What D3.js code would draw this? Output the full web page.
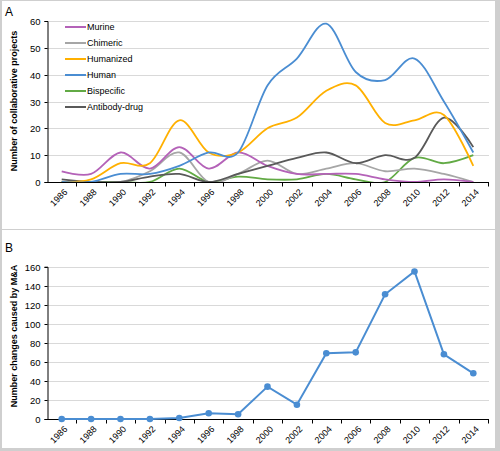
<!DOCTYPE html>
<html><head><meta charset="utf-8">
<script src="https://cdn.jsdelivr.net/npm/d3@7"></script>
<style>body{margin:0;background:#fff}svg{display:block;font-family:"Liberation Sans",Arial,sans-serif}</style>
</head><body>
<svg id="c" width="500" height="451"></svg>
<script>
const years = ["1986","1988","1990","1992","1994","1996","1998","2000","2002","2004","2006","2008","2010","2012","2014"];
const seriesNames = ["Murine","Chimeric","Humanized","Human","Bispecific","Antibody-drug"];
const murine      = [4,3,11,5,13,5,11,6,3,3,3,1,0,1,0];
const chimeric    = [0,0,0,4,11,0,3,8,3,5,7,4,5,3,0];
const humanized   = [0,1,7,7,23,11,11,20,24,34,36,22,23,25,6];
const human       = [0,0,3,3,6,11,11,36,46,59,41,38,46,30,11];
const bispecific  = [0,0,0,0,5,0,2,1,1,3,1,0,9,7,10];
const antibodyDrug= [1,0,0,2,3,0,3,6,9,11,7,10,9,24,13];
const maChanges   = [0,0,0,0,1,6,5,34,15,69,70,131,155,68,48];
const ticksA = [0,10,20,30,40,50,60];
const ticksB = [0,20,40,60,80,100,120,140,160];
const colors = ["#b462b8","#a6a6a6","#ffb000","#4a8dd2","#62aa45","#595959"];

const svg = d3.select("#c");
svg.append("rect").attr("width",500).attr("height",451).attr("fill","#cfcfcf");
svg.append("rect").attr("x",2).attr("y",1).attr("width",493).attr("height",447).attr("fill","#fff");
svg.append("line").attr("x1",2).attr("x2",495).attr("y1",229.5).attr("y2",229.5).attr("stroke","#cfcfcf");

const x = d3.scaleBand().domain(years).range([47,488]).padding(0);
const cx = d => x(d) + x.bandwidth()/2;

function panel(y, ticks, top, title, titleY, letter, letterY) {
  const g = svg.append("g");
  // gridlines
  g.selectAll(".grid").data(ticks.slice(1)).join("line")
    .attr("x1",47).attr("x2",489).attr("y1",d=>Math.round(y(d))+0.5).attr("y2",d=>Math.round(y(d))+0.5)
    .attr("stroke","#d9d9d9").attr("stroke-width",1);
  // y axis
  const ya = g.append("g").attr("transform","translate(47.5,0)")
    .call(d3.axisLeft(y).tickValues(ticks).tickSize(3).tickPadding(4));
  ya.select(".domain").attr("stroke","#000");
  ya.selectAll(".tick line").attr("stroke","#000");
  ya.selectAll("text").attr("font-size","9.5px").attr("fill","#000").attr("font-family","Liberation Sans, Arial, sans-serif");
  ya.selectAll(".tick").attr("transform",d=>`translate(0,${Math.round(y(d))+0.5})`);
  const y0 = Math.round(y(0))+0.5;
  // x axis line & ticks at band boundaries
  g.append("line").attr("x1",47).attr("x2",489).attr("y1",y0).attr("y2",y0).attr("stroke","#000");
  const bounds = years.map(d=>x(d)).concat([x.range()[1]]);
  g.selectAll(".xt").data(bounds.slice(1)).join("line")
    .attr("x1",d=>Math.round(d)+0.5).attr("x2",d=>Math.round(d)+0.5).attr("y1",y0).attr("y2",y0+4).attr("stroke","#000");
  g.selectAll(".xl").data(years).join("text")
    .attr("transform",d=>`translate(${cx(d)+4},${y0+8}) rotate(-45)`)
    .attr("text-anchor","end").attr("dy","0.35em").attr("font-size","9px").text(d=>d);
  g.append("text").attr("transform",`translate(17,${titleY}) rotate(-90)`)
    .attr("text-anchor","middle").attr("font-size","9px").attr("font-weight","bold").text(title);
  g.append("text").attr("x",5).attr("y",letterY).attr("font-size","12px").text(letter);
  return g;
}

// Panel A
const yA = d3.scaleLinear().domain([0,60]).range([182,21]);
const gA = panel(yA, ticksA, 21, "Number of collaborative projects", 101, "A", 16);
svg.append("clipPath").attr("id","clipA").append("rect").attr("x",47).attr("y",15).attr("width",445).attr("height",167);
const lineA = d3.line().x((d,i)=>cx(years[i])).y(d=>yA(d)).curve(d3.curveCardinal.tension(0));
const allSeries = [murine,chimeric,humanized,human,bispecific,antibodyDrug];
const order = [4,1,0,5,2,3];
const lg = svg.append("g").attr("clip-path","url(#clipA)");
order.forEach(k=>{
  lg.append("path").attr("d",lineA(allSeries[k])).attr("fill","none")
    .attr("stroke",colors[k]).attr("stroke-width",1.8);
});
// redraw axis line over curves
svg.append("line").attr("x1",47).attr("x2",489).attr("y1",182.5).attr("y2",182.5).attr("stroke","#000");
// legend
const leg = svg.append("g");
seriesNames.forEach((n,i)=>{
  const ly = 27 + i*16;
  leg.append("line").attr("x1",65).attr("x2",86).attr("y1",ly).attr("y2",ly).attr("stroke",colors[i]).attr("stroke-width",2);
  leg.append("text").attr("x",87).attr("y",ly).attr("dy","0.35em").attr("font-size","9px").text(n);
});

// Panel B
const yB = d3.scaleLinear().domain([0,160]).range([419,266.7]);
panel(yB, ticksB, 266, "Number changes caused by M&A", 336, "B", 252);
const lineB = d3.line().x((d,i)=>cx(years[i])).y(d=>yB(d));
svg.append("path").attr("d",lineB(maChanges)).attr("fill","none").attr("stroke","#4a8dd2").attr("stroke-width",2);
svg.selectAll(".dot").data(maChanges).join("circle")
  .attr("cx",(d,i)=>cx(years[i])).attr("cy",d=>yB(d)).attr("r",3.3).attr("fill","#4a8dd2");
</script>
</body></html>
